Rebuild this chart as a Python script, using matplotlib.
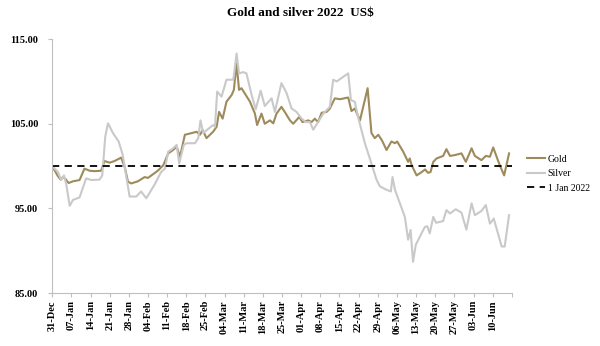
import matplotlib.pyplot as plt
import numpy as np

# days after 31-Dec-2021 and rebased prices (1 Jan 2022 = 100)
gold_day = [0, 2.1, 3.1, 3.9, 4.8, 6.0, 7.6, 10, 11.8, 13.7, 15.5, 17.9, 19.1, 21, 22.8, 25.2,
            26.5, 27.7, 28.9, 31.3, 33.8, 35, 38.6, 40.6, 42.4, 44.2, 45.5, 46.7, 48.5, 51,
            52.8, 54, 55, 56.4, 58.8, 60.1, 61, 62.3, 63.7, 65.6, 66.4, 67.4, 68.3, 69.2,
            72.3, 74.1, 74.9, 76.5, 77.7, 79.6, 80.8, 82, 83.8, 85, 86.9, 88.1, 90.3, 91.5,
            93.6, 94.8, 96, 97.2, 98.5, 100.3, 101.5, 103.3, 105.2, 108.2, 109.4, 110.6,
            112.5, 115.3, 116.7, 117.9, 119.2, 120.6, 122.2, 124, 125.3, 126.1, 128.3, 130.1,
            130.7, 131.4, 133.2, 135.1, 136.3, 137.4, 138.3, 139.3, 140.5, 142.9, 144.1,
            145.4, 147.2, 149.6, 151.2, 153.3, 154.5, 156.9, 158.5, 160, 161.2, 163.6,
            165.2, 167]
gold_val = [100.0, 98.8, 98.4, 98.7, 98.5, 98.0, 98.2, 98.35, 99.7, 99.45, 99.4, 99.45, 100.6,
            100.4, 100.6, 101.0, 99.9, 98.15, 97.95, 98.2, 98.7, 98.6, 99.45, 100.1, 101.5,
            101.9, 102.3, 101.1, 103.7, 103.9, 104.05, 103.7, 104.25, 103.3, 104.05, 104.65,
            106.4, 105.6, 107.6, 108.4, 109.0, 112.1, 109.0, 109.2, 107.6, 106.2, 104.85,
            106.2, 105.0, 105.4, 105.05, 106.2, 107.0, 106.4, 105.4, 105.0, 105.8, 105.2,
            105.4, 105.2, 105.6, 105.2, 106.3, 106.4, 106.8, 108.0, 107.9, 108.1, 106.5,
            106.8, 105.4, 109.2, 103.9, 103.3, 103.7, 103.0, 101.9, 102.9, 102.7, 102.9,
            101.7, 100.5, 100.9, 100.1, 98.9, 99.3, 99.6, 99.2, 99.3, 100.5, 100.9, 101.2,
            102.0, 101.2, 101.3, 101.5, 100.5, 102.1, 101.2, 100.7, 101.2, 101.1, 102.2,
            100.1, 98.9, 101.5]

silver_day = [0, 2.1, 3.3, 4.3, 5.1, 6.4, 7.6, 10, 12.4, 14.3, 17.3, 18.3, 19.4, 20.4, 22.2,
              24.3, 25.8, 26.7, 28.3, 30.7, 32.5, 34.4, 37.4, 39.8, 41.2, 42.4, 44.2, 45.5,
              46.4, 48.1, 49.1, 52.2, 53.4, 54.2, 55.2, 58.8, 59.5, 60.3, 61.9, 63.7, 66.2,
              67.4, 68.3, 69.8, 71, 72.9, 74.4, 76.2, 77.7, 80.2, 81.4, 83.8, 85.7, 87.5,
              89.3, 91.2, 92.7, 94.2, 95.4, 97.2, 99.1, 101.5, 102.7, 104, 108.2, 109.2,
              110.6, 111.8, 114.3, 116.1, 118.6, 119.8, 122.2, 123.8, 124.4, 125.3, 127.1,
              128.9, 130.1, 131, 131.9, 132.9, 135, 136.2, 137.1, 138, 139.3, 140.3, 142.9,
              144.1, 145.4, 147.5, 149.6, 151.4, 153.3, 154.5, 156.9, 158.5, 160, 161.4,
              164.3, 165.4, 167]
silver_val = [100.0, 99.3, 98.35, 98.9, 97.9, 95.3, 96.0, 96.3, 98.55, 98.35, 98.4, 98.9,
              103.5, 105.05, 103.9, 102.9, 101.3, 99.5, 96.4, 96.4, 97.0, 96.2, 97.8, 99.3,
              99.7, 101.7, 102.1, 102.5, 100.3, 102.5, 102.7, 102.7, 103.3, 105.4, 103.9,
              104.85, 104.65, 108.8, 108.2, 110.2, 110.2, 113.3, 110.95, 111.1, 110.95,
              108.4, 106.7, 108.9, 107.1, 108.0, 106.4, 109.8, 108.6, 106.8, 106.4, 105.6,
              105.2, 105.2, 104.3, 105.2, 106.2, 107.0, 110.2, 110.0, 110.95, 107.8, 107.6,
              105.8, 102.7, 100.9, 98.35, 97.6, 97.2, 97.0, 98.7, 97.2, 95.6, 94.0, 91.3,
              92.45, 88.7, 90.7, 92.05, 92.8, 92.9, 92.05, 94.0, 93.3, 93.5, 94.8, 94.4,
              94.9, 94.5, 92.5, 95.6, 94.2, 94.7, 95.4, 93.2, 93.8, 90.5, 90.5, 94.2]

tick_labels = ['31-Dec', '07-Jan', '14-Jan', '21-Jan', '28-Jan', '04-Feb', '11-Feb', '18-Feb',
               '25-Feb', '04-Mar', '11-Mar', '18-Mar', '25-Mar', '01-Apr', '08-Apr', '15-Apr',
               '22-Apr', '29-Apr', '06-May', '13-May', '20-May', '27-May', '03-Jun', '10-Jun']

serif = 'Liberation Serif'
fig = plt.figure(figsize=(6, 3.46), dpi=100)
ax = fig.add_axes([0.087, 0.153, 0.766, 0.734])

ax.plot(gold_day, gold_val, color='#9E8B5C', lw=1.5, label='Gold')
ax.plot(silver_day, silver_val, color='#C9C9C9', lw=1.5, label='Silver')
ax.axhline(100, color='black', lw=1.3, ls=(0, (4, 3)), label='1 Jan 2022')

ax.set_xlim(0, 168)
ax.set_ylim(85, 115)
ax.set_yticks([85, 95, 105, 115])
ax.set_yticklabels(['%.2f' % v for v in [85, 95, 105, 115]], fontfamily=serif,
                   fontweight='bold', fontsize=7.5)
ax.set_xticks(np.arange(0, 169, 7))
ax.set_xticklabels(tick_labels + [''], rotation=90, fontfamily=serif,
                   fontweight='bold', fontsize=7.5)
ax.tick_params(axis='both', length=3, color='#BFBFBF', pad=2)
ax.tick_params(axis='y', pad=7)

for s in ['top', 'right']:
    ax.spines[s].set_visible(False)
for s in ['left', 'bottom']:
    ax.spines[s].set_color('#BFBFBF')

fig.text(0.5, 0.962, 'Gold and silver 2022  US$', ha='center', va='center',
         fontfamily=serif, fontweight='bold', fontsize=9.5)

ax.legend(loc='center left', bbox_to_anchor=(1.015, 0.47), frameon=False,
          prop={'family': serif, 'size': 7}, handlelength=1.8, handletextpad=0.3,
          labelspacing=0.55)

fig.savefig('out.png', dpi=100)
